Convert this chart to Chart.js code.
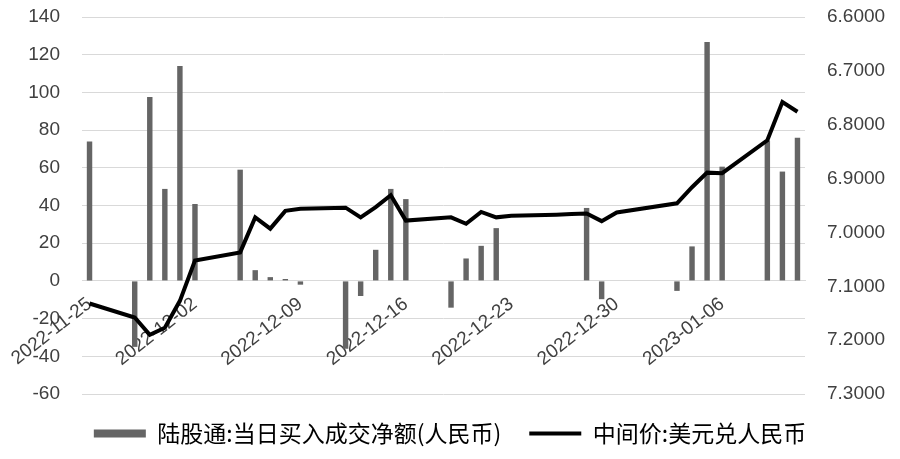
<!DOCTYPE html>
<html>
<head>
<meta charset="utf-8">
<script src="https://cdn.jsdelivr.net/npm/chart.js@4.4.0/dist/chart.umd.min.js"></script>
<style>
  html, body { margin: 0; padding: 0; background: #ffffff; }
  #wrap { width: 900px; height: 459px; }
</style>
</head>
<body>
<div id="wrap"><canvas id="c" width="900" height="459"></canvas></div>
<script>
// Calendar days 2022-11-25 .. 2023-01-11
const categories = [
  '2022-11-25','2022-11-26','2022-11-27','2022-11-28','2022-11-29','2022-11-30','2022-12-01',
  '2022-12-02','2022-12-03','2022-12-04','2022-12-05','2022-12-06','2022-12-07','2022-12-08',
  '2022-12-09','2022-12-10','2022-12-11','2022-12-12','2022-12-13','2022-12-14','2022-12-15',
  '2022-12-16','2022-12-17','2022-12-18','2022-12-19','2022-12-20','2022-12-21','2022-12-22',
  '2022-12-23','2022-12-24','2022-12-25','2022-12-26','2022-12-27','2022-12-28','2022-12-29',
  '2022-12-30','2022-12-31','2023-01-01','2023-01-02','2023-01-03','2023-01-04','2023-01-05',
  '2023-01-06','2023-01-07','2023-01-08','2023-01-09','2023-01-10','2023-01-11'
];

// 陆股通:当日买入成交净额(人民币), 亿元
const netBuy = [
  74, null, null, -35, 97.5, 48.8, 114,
  40.8, null, null, 59, 5.7, 2, 1,
  -2, null, null, -36, -8, 16.5, 48.8,
  43.4, null, null, -14.2, 11.9, 18.6, 28,
  null, null, null, null, null, 38.7, -9.7,
  null, null, null, null, -5.3, 18.3, 126.8,
  60.6, null, null, 74.5, 58, 75.9
];

// 中间价:美元兑人民币
const midRate = [
  7.132, null, null, 7.158, 7.190, 7.177, 7.127,
  7.052, null, null, 7.037, 6.972, 6.993, 6.960,
  6.956, null, null, 6.954, 6.972, 6.953, 6.931,
  6.978, null, null, 6.972, 6.984, 6.962, 6.972,
  6.969, null, null, 6.967, 6.966, 6.965, 6.979,
  6.963, null, null, null, 6.946, 6.916, 6.889,
  6.890, null, null, 6.829, 6.758, 6.776
];

const leftTicks = { min: -60, max: 140, step: 20 };
const rightTicks = { min: 6.6, max: 7.3, step: 0.1 };
const labelEvery = 7;

const tickFont = { family: '"Liberation Sans", Arial, sans-serif', size: 19 };
const tickColor = '#404040';

function zeroPad(scale) {
  scale.paddingTop = 0;
  scale.paddingBottom = 0;
}

new Chart(document.getElementById('c'), {
  data: {
    labels: categories,
    datasets: [
      {
        type: 'line',
        label: '中间价:美元兑人民币',
        data: midRate,
        yAxisID: 'yR',
        borderColor: '#000000',
        backgroundColor: '#000000',
        borderWidth: 4,
        pointRadius: 0,
        pointHoverRadius: 0,
        spanGaps: true,
        tension: 0,
        pointStyle: 'line',
        order: 0
      },
      {
        type: 'bar',
        label: '陆股通:当日买入成交净额(人民币)',
        data: netBuy,
        yAxisID: 'yL',
        backgroundColor: '#656565',
        borderWidth: 0,
        barPercentage: 0.36,
        categoryPercentage: 1.0,
        pointStyle: 'rect',
        order: 1
      }
    ]
  },
  options: {
    responsive: false,
    animation: false,
    devicePixelRatio: 1,
    layout: { padding: { top: 17, left: 0, right: 0, bottom: 4 } },
    plugins: {
      tooltip: { enabled: false },
      legend: {
        position: 'bottom',
        reverse: true,
        labels: {
          usePointStyle: true,
          pointStyleWidth: 52,
          boxHeight: 8,
          padding: 28,
          color: '#000000',
          font: { family: '"Noto Sans CJK SC", sans-serif', size: 23 }
        }
      }
    },
    scales: {
      x: {
        type: 'category',
        position: { yL: 0 },
        offset: true,
        grid: { display: false, drawTicks: false },
        border: { display: true, color: '#d9d9d9', width: 1 },
        ticks: {
          autoSkip: false,
          minRotation: 38,
          maxRotation: 38,
          padding: 12,
          color: tickColor,
          font: tickFont,
          callback: function(value, index) {
            return index % labelEvery === 0 ? categories[index] : '';
          }
        },
        afterFit: function(scale) { scale.height = 0; zeroPad(scale); }
      },
      yL: {
        type: 'linear',
        position: 'left',
        min: leftTicks.min,
        max: leftTicks.max,
        grid: { color: '#d9d9d9', lineWidth: 1, drawTicks: false },
        border: { display: false },
        ticks: { stepSize: leftTicks.step, padding: 22, color: tickColor, font: tickFont },
        afterFit: function(scale) { scale.width = 82; zeroPad(scale); }
      },
      yR: {
        type: 'linear',
        position: 'right',
        reverse: true,
        min: rightTicks.min,
        max: rightTicks.max,
        grid: { display: false, drawTicks: false },
        border: { display: false },
        ticks: {
          stepSize: rightTicks.step,
          padding: 22,
          color: tickColor,
          font: tickFont,
          callback: function(v) { return Number(v).toFixed(4); }
        },
        afterFit: function(scale) { scale.width = 95; zeroPad(scale); }
      }
    }
  }
});
</script>
</body>
</html>
